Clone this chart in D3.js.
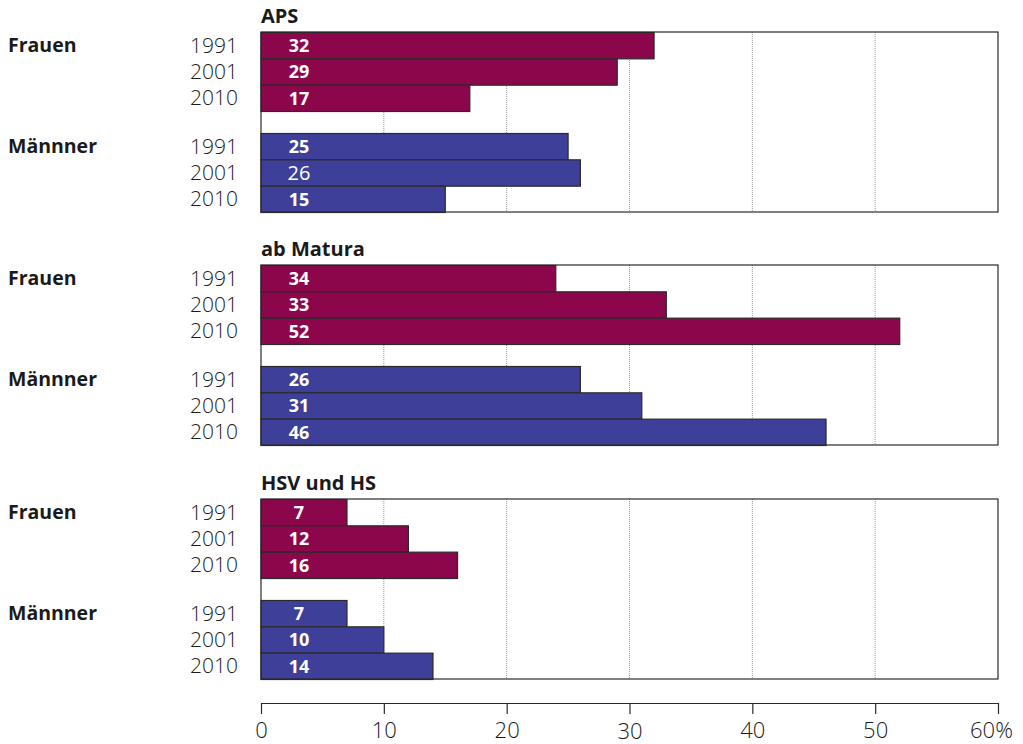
<!DOCTYPE html>
<html><head><meta charset="utf-8">
<script src="https://cdn.jsdelivr.net/npm/d3@7"></script>
<style>body{margin:0;background:#fff}svg{display:block;font-family:"Open Sans",sans-serif}</style>
</head><body>
<script>
const panels = ["APS", "ab Matura", "HSV und HS"];
const groups = ["Frauen", "Männner"];
const years = ["1991", "2001", "2010"];
// bar lengths as drawn (%)
const frauenValues = [[32, 29, 17], [24, 33, 52], [7, 12, 16]];
const maennerValues = [[25, 26, 15], [26, 31, 46], [7, 10, 14]];
// value labels as printed
const frauenLabels = [["32", "29", "17"], ["34", "33", "52"], ["7", "12", "16"]];
const maennerLabels = [["25", "26", "15"], ["26", "31", "46"], ["7", "10", "14"]];
const ticks = [0, 10, 20, 30, 40, 50, 60];
const tickLabels = ["0", "10", "20", "30", "40", "50", "60%"];

const W = 1023, H = 744;
const svg = d3.select("body").append("svg").attr("width", W).attr("height", H);
const x = d3.scaleLinear().domain([0, 60]).range([261, 998]);
const colors = ["#8c064c", "#3e3f98"];
const panelTop = [32, 265, 499];
const boxH = 180, groupGap = 22;

const rowKeys = [];
groups.forEach((g, gi) => years.forEach((yr, yi) => rowKeys.push(gi + "-" + yi)));
const y = d3.scaleBand().domain(rowKeys).range([0, boxH - groupGap]).paddingInner(0);
const rowY = (gi, yi) => y(gi + "-" + yi) + (gi === 1 ? groupGap : 0);

panels.forEach((p, pi) => {
  const g = svg.append("g").attr("transform", `translate(0,${panelTop[pi]})`);
  g.append("text").attr("x", 261).attr("y", -9).attr("font-size", 20).attr("font-weight", 700)
    .attr("fill", "#1a1a1a").text(p);
  g.selectAll("line.grid").data(ticks.slice(1, -1)).enter().append("line")
    .attr("x1", d => x(d)).attr("x2", d => x(d)).attr("y1", 0).attr("y2", boxH)
    .attr("stroke", "#9a9a9a").attr("stroke-width", 1).attr("stroke-dasharray", "1,1");
  groups.forEach((grp, gi) => {
    const vals = gi === 0 ? frauenValues[pi] : maennerValues[pi];
    const labs = gi === 0 ? frauenLabels[pi] : maennerLabels[pi];
    g.append("text").attr("x", 8).attr("y", rowY(gi, 0) + y.bandwidth() / 2)
      .attr("dy", "0.35em").attr("font-size", 19.5).attr("font-weight", 700).attr("fill", "#1a1a1a").text(grp);
    years.forEach((yr, yi) => {
      const yy = rowY(gi, yi);
      g.append("text").attr("x", 238).attr("y", yy + y.bandwidth() / 2).attr("dy", "0.36em")
        .attr("text-anchor", "end").attr("font-size", 21).attr("font-weight", 300).attr("fill", "#1a1a1a").text(yr);
      g.append("rect").attr("x", x(0)).attr("y", yy + 0.5).attr("width", x(vals[yi]) - x(0))
        .attr("height", y.bandwidth()).attr("fill", colors[gi]).attr("stroke", "#2a2a2a").attr("stroke-width", 1.2);
      const plain = (pi === 0 && gi === 1 && yi === 1);
      g.append("text").attr("x", x(0) + 38).attr("y", yy + y.bandwidth() / 2 + 0.5).attr("dy", "0.36em")
        .attr("text-anchor", "middle").attr("font-size", plain ? 20 : 18).attr("font-weight", plain ? 400 : 700)
        .attr("fill", "#fff").text(labs[yi]);
    });
  });
  g.append("rect").attr("x", x(0)).attr("y", 0).attr("width", x(60) - x(0)).attr("height", boxH)
    .attr("fill", "none").attr("stroke", "#2a2a2a").attr("stroke-width", 1.2);
});

const axis = d3.axisBottom(x).tickValues(ticks).tickSize(11).tickSizeOuter(0)
  .tickFormat((d, i) => tickLabels[i]);
const ag = svg.append("g").attr("transform", "translate(0,703)").call(axis);
ag.select(".domain").attr("stroke", "#2a2a2a").attr("stroke-width", 1.2);
ag.selectAll(".tick line").attr("stroke", "#2a2a2a").attr("stroke-width", 1.2);
ag.selectAll(".tick text").attr("font-size", 22).attr("font-weight", 300).attr("fill", "#1a1a1a")
  .attr("font-family", "'Open Sans',sans-serif").attr("y", 27).attr("dy", (d) => d === 30 ? "0.42em" : "0.35em")
  .attr("dx", (d) => d === 60 ? "-7" : "0");
</script>
</body></html>
